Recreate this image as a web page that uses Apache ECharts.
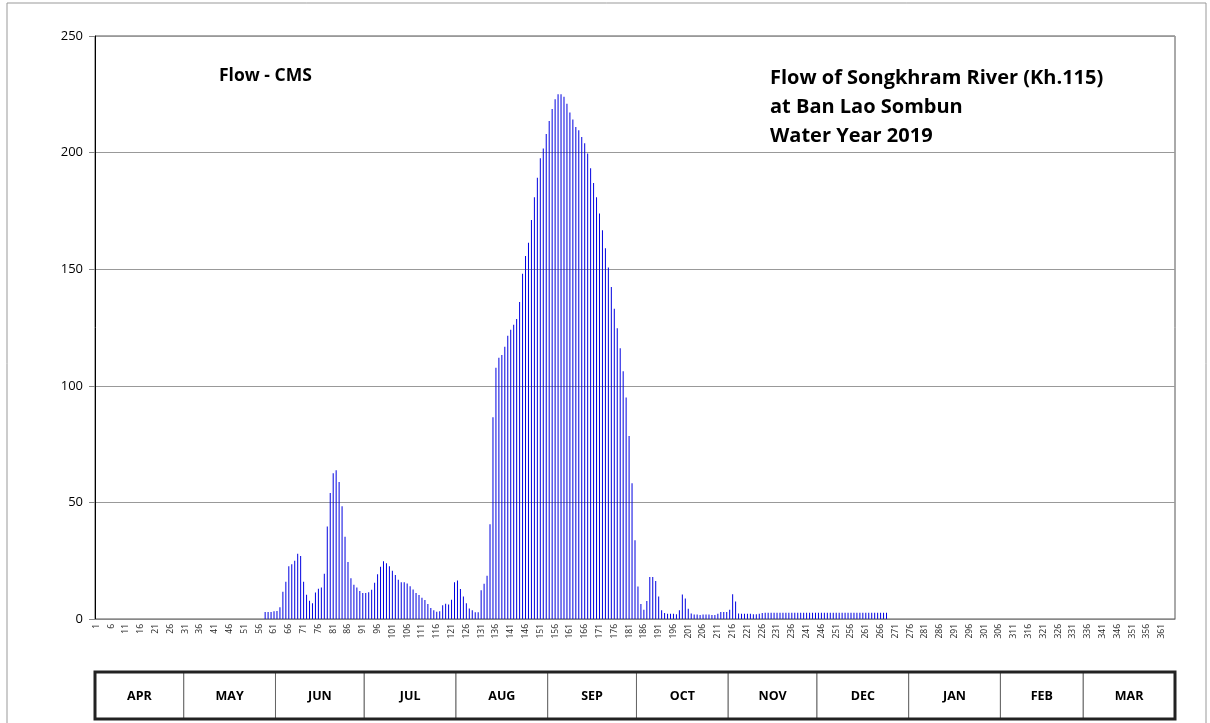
<!DOCTYPE html>
<html>
<head>
<meta charset="utf-8">
<script src="https://cdn.jsdelivr.net/npm/echarts@6/dist/echarts.min.js"></script>
<style>
  html, body { margin: 0; padding: 0; background: #fff; }
  #main { width: 1210px; height: 723px; }
</style>
</head>
<body>
<div id="main"></div>
<script>
// day numbers of the water year (Apr 1 = day 1)
const days = Array.from({ length: 365 }, (_, i) => String(i + 1));

// daily flow, CMS
const flow = [
  0, 0, 0, 0, 0, 0, 0, 0, 0, 0,
  0, 0, 0, 0, 0, 0, 0, 0, 0, 0,
  0, 0, 0, 0, 0, 0, 0, 0, 0, 0,
  0, 0, 0, 0, 0, 0, 0, 0, 0, 0,
  0, 0, 0, 0, 0, 0, 0, 0, 0, 0,
  0, 0, 0, 0, 0, 0, 0, 3, 3, 3,
  3.3, 3.4, 5, 11.7, 16, 22.6, 23.5, 25, 28, 27,
  16, 10.4, 7.8, 6.8, 11.4, 13, 13.5, 19.4, 39.7, 54,
  62.5, 63.8, 58.7, 48.4, 35.3, 24.4, 17.5, 14.7, 13.5, 12,
  11.1, 11.1, 11.5, 12.5, 15.5, 19.2, 22.4, 24.8, 23.9, 22.6,
  20.7, 18.9, 16.8, 15.8, 15.8, 15.2, 14, 12.7, 11.1, 10.3,
  9.1, 8.1, 6.4, 4.7, 3.8, 3.1, 3.3, 5.9, 6.5, 6.2,
  8.3, 15.8, 16.5, 12.9, 9.7, 6.8, 4.5, 3.7, 2.9, 2.9,
  12.3, 15.1, 18.5, 40.6, 86.5, 107.7, 112, 113.2, 116.7, 121.5,
  124, 126.2, 128.6, 135.9, 148.1, 155.7, 161.3, 171.1, 180.9, 189.2,
  197.6, 201.8, 208, 213.6, 218.7, 222.9, 225, 225, 224, 221,
  217.2, 214.2, 211, 209.6, 206.7, 204, 199.6, 193.3, 187, 180.9,
  173.9, 166.7, 159, 150.7, 142.4, 133, 124.7, 116.1, 106.2, 95,
  78.5, 58.2, 33.8, 13.9, 6.4, 4, 7.7, 18, 18, 16.3,
  9.6, 3.7, 2.6, 2.3, 2.2, 2.2, 2, 3.7, 10.5, 8.8,
  4.4, 2.4, 1.9, 1.9, 1.7, 1.9, 1.9, 1.9, 1.7, 1.7,
  2.3, 3, 3, 3, 4, 10.6, 7.5, 2.4, 2.3, 2.3,
  2.3, 2.3, 2, 2, 2.3, 2.6, 2.7, 2.7, 2.7, 2.7,
  2.7, 2.7, 2.7, 2.7, 2.7, 2.7, 2.7, 2.7, 2.7, 2.7,
  2.7, 2.7, 2.7, 2.7, 2.7, 2.7, 2.7, 2.7, 2.7, 2.7,
  2.7, 2.7, 2.7, 2.7, 2.7, 2.7, 2.7, 2.7, 2.7, 2.7,
  2.7, 2.7, 2.7, 2.7, 2.7, 2.7, 2.7, 2.7, 0, 0,
  0, 0, 0, 0, 0, 0, 0, 0, 0, 0,
  0, 0, 0, 0, 0, 0, 0, 0, 0, 0,
  0, 0, 0, 0, 0, 0, 0, 0, 0, 0,
  0, 0, 0, 0, 0, 0, 0, 0, 0, 0,
  0, 0, 0, 0, 0, 0, 0, 0, 0, 0,
  0, 0, 0, 0, 0, 0, 0, 0, 0, 0,
  0, 0, 0, 0, 0, 0, 0, 0, 0, 0,
  0, 0, 0, 0, 0, 0, 0, 0, 0, 0,
  0, 0, 0, 0, 0, 0, 0, 0, 0, 0,
  0, 0, 0, 0, 0
];

const months = ["APR", "MAY", "JUN", "JUL", "AUG", "SEP", "OCT", "NOV", "DEC", "JAN", "FEB", "MAR"];
const monthDays = [30, 31, 30, 31, 31, 30, 31, 30, 31, 31, 28, 31];

const titleLines = ["Flow of Songkhram River (Kh.115)", "at Ban Lao Sombun", "Water Year 2019"];
const unitLabel = "Flow - CMS";

const FONT = "'Open Sans', 'Liberation Sans', sans-serif";

const chartDom = document.getElementById("main");
const myChart = echarts.init(chartDom);

const option = {
  animation: false,
  grid: {
    left: 95,
    right: 35,
    top: 36,
    bottom: 104,
    show: true,
    borderColor: "#555",
    borderWidth: 1,
  },
  xAxis: {
    type: "category",
    data: days,
    axisLine: { lineStyle: { color: "#888" } },
    axisTick: { interval: 0, length: 3, lineStyle: { color: "#999" } },
    axisLabel: {
      interval: 4,
      rotate: 90,
      fontSize: 8.5,
      color: "#222",
      margin: 5,
      fontFamily: FONT,
    },
  },
  yAxis: {
    type: "value",
    min: 0,
    max: 250,
    interval: 50,
    axisLine: { show: true, lineStyle: { color: "#000" } },
    axisTick: { show: true, length: 6, lineStyle: { color: "#888" } },
    axisLabel: { fontSize: 13, color: "#000", margin: 12, fontFamily: FONT },
    splitLine: { lineStyle: { color: "#999" } },
  },
  series: [
    {
      type: "bar",
      data: flow,
      barWidth: 1,
      itemStyle: { color: "#0000e0" },
    },
  ],
};

myChart.setOption(option);

// texts, outer frame and month table underneath the axis
function drawExtras() {
  const c0 = myChart.convertToPixel({ xAxisIndex: 0 }, days[0]);
  const c1 = myChart.convertToPixel({ xAxisIndex: 0 }, days[1]);
  const bw = c1 - c0;
  const left = c0 - bw / 2;
  const tTop = 672, tH = 47;

  const els = [
    {
      type: "rect",
      shape: { x: 7, y: 3, width: 1199, height: 740 },
      style: { fill: null, stroke: "#999", lineWidth: 1 },
      silent: true,
    },
    {
      type: "text",
      style: { x: 219, y: 76, text: unitLabel, font: "bold 17.5px " + FONT, fill: "#000", verticalAlign: "middle" },
    },
  ];
  titleLines.forEach((t, i) => {
    els.push({
      type: "text",
      style: { x: 770, y: 78 + i * 29, text: t, font: "bold 20px " + FONT, fill: "#000", verticalAlign: "middle" },
    });
  });

  let start = 0;
  months.forEach((m, i) => {
    const x0 = left + start * bw;
    const w = monthDays[i] * bw;
    els.push({
      type: "rect",
      shape: { x: x0, y: tTop, width: w, height: tH },
      style: { fill: "#fff", stroke: "#666", lineWidth: 1 },
    });
    els.push({
      type: "text",
      style: {
        x: x0 + w / 2, y: tTop + tH / 2 + 1, text: m,
        font: "bold 12.5px " + FONT, fill: "#000",
        align: "center", verticalAlign: "middle",
      },
    });
    start += monthDays[i];
  });
  els.push({
    type: "rect",
    shape: { x: left, y: tTop, width: start * bw, height: tH },
    style: { fill: null, stroke: "#222", lineWidth: 3 },
  });

  myChart.setOption({ graphic: els });
}

drawExtras();
</script>
</body>
</html>
